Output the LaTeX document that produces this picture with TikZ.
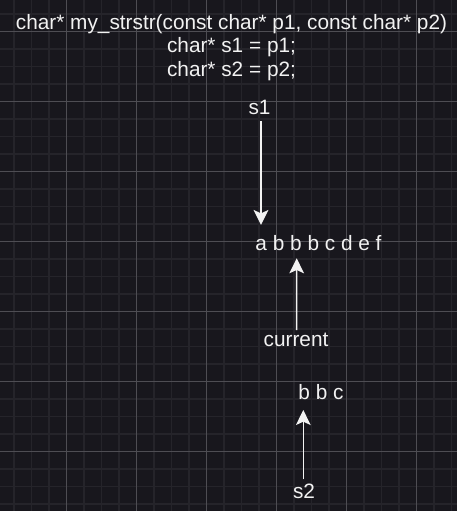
\documentclass[tikz,border=0pt]{standalone}
\usepackage{fontspec}
\setmainfont{Liberation Sans}
\usetikzlibrary{arrows.meta,calc}
\definecolor{bg}{RGB}{24,23,29}
\definecolor{minorgrid}{RGB}{37,36,42}
\definecolor{majorgrid}{RGB}{78,77,83}
\definecolor{ink}{RGB}{242,242,242}
\begin{document}
\begin{tikzpicture}[x=0.75pt,y=-0.75pt,
  lbl/.style={inner sep=0pt,anchor=base,text=ink,font=\fontsize{15.6pt}{17pt}\selectfont},
  arr/.style={draw=ink,line width=1.15pt,-{Stealth[length=11.25pt,width=11pt,inset=2.5pt]}},
  minorline/.style={draw=minorgrid,line width=0.9pt},
  majorline/.style={draw=majorgrid,line width=0.75pt}]
\fill[bg] (0,0) rectangle (457,511);
\useasboundingbox (0,0) rectangle (457,511);
% minor grid
\foreach \i in {0,...,25} {\draw[minorline] ({14+17.5*\i},0) -- ({14+17.5*\i},511);}
\foreach \j in {0,...,28} {\draw[minorline] (0,{14+17.5*\j}) -- (457,{14+17.5*\j});}
% major grid
\foreach \i in {0,...,5} {\draw[majorline] ({66.5+70*\i},0) -- ({66.5+70*\i},511);}
\foreach \j in {0,...,6} {\draw[majorline] (0,{31.5+70*\j}) -- (457,{31.5+70*\j});}
% texts
\node[lbl] (sig) at (231.5,29) {char* my\_strstr(const char* p1, const char* p2)};
\node[lbl] (decl1) at (231.5,52.5) {char* s1 = p1;};
\node[lbl] (decl2) at (231.5,76.5) {char* s2 = p2;};
\node[lbl] (s1) at (259.5,114) {s1};
\node[lbl] (str) at (318.5,250) {a b b b c d e f};
\node[lbl] (cur) at (296,346.7) {current};
\node[lbl] (sub) at (321,399.3) {b b c};
\node[lbl] (s2) at (304,498.3) {s2};
% arrows
\draw[arr] ($(s1.base)+(1.5,7)$) -- ($(str.base)+(-57.5,-25)$);
\draw[arr] ($(cur.base)+(0.7,-16.7)$) -- ($(str.base)+(-21.8,8.3)$);
\draw[arr] ($(s2.base)+(-0.7,-19)$) -- ($(sub.base)+(-17.7,10.7)$);
\end{tikzpicture}
\end{document}
